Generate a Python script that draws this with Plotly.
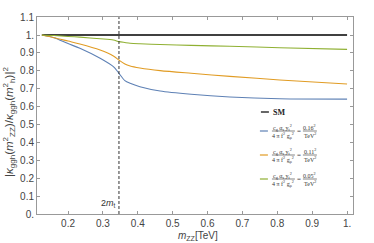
import plotly.graph_objects as go

# ---- data ----
m_zz = [0.125, 0.16, 0.2, 0.234, 0.292, 0.330, 0.346, 0.363, 0.378, 0.406, 0.464, 0.553, 0.664, 0.807, 1.0]
ratio_016 = [1.0, 0.985, 0.952, 0.926, 0.870, 0.823, 0.786, 0.745, 0.730, 0.711, 0.687, 0.669, 0.654, 0.644, 0.642]
ratio_011 = [1.0, 0.985, 0.966, 0.950, 0.916, 0.883, 0.860, 0.838, 0.827, 0.816, 0.801, 0.786, 0.769, 0.749, 0.726]
ratio_005 = [1.0, 0.997, 0.992, 0.988, 0.979, 0.972, 0.963, 0.958, 0.954, 0.951, 0.947, 0.942, 0.937, 0.929, 0.920]
sm_x = [0.125, 1.0]
sm_y = [1.0, 1.0]
two_mt = 0.346
series_names = ["0.16", "0.11", "0.05"]
x_ticks = [0.2, 0.3, 0.4, 0.5, 0.6, 0.7, 0.8, 0.9, 1.0]
x_tick_labels = ["0.2", "0.3", "0.4", "0.5", "0.6", "0.7", "0.8", "0.9", "1."]
y_ticks = [0.0, 0.1, 0.2, 0.3, 0.4, 0.5, 0.6, 0.7, 0.8, 0.9, 1.0, 1.1]
y_tick_labels = ["0.", "0.1", "0.2", "0.3", "0.4", "0.5", "0.6", "0.7", "0.8", "0.9", "1.", "1.1"]

colors = ["#5E81B5", "#E19C24", "#8FB032"]

fig = go.Figure()
fig.add_trace(go.Scatter(x=sm_x, y=sm_y, mode="lines", line=dict(color="black", width=1.3), showlegend=False))
for ys, c in zip([ratio_016, ratio_011, ratio_005], colors):
    fig.add_trace(go.Scatter(x=m_zz, y=ys, mode="lines", line=dict(color=c, width=1.1, shape="spline", smoothing=0.8),
                             showlegend=False))
fig.add_trace(go.Scatter(x=[two_mt, two_mt], y=[0, 1.1], mode="lines",
                         line=dict(color="#333333", width=1, dash="3px,2px"), showlegend=False))

ann = []
ann.append(dict(x=two_mt - 0.004, y=0.06, xref="x", yref="y", xanchor="right", yanchor="middle", showarrow=False,
                text="2<i>m</i><sub>t</sub>", font=dict(family="Liberation Sans", size=9, color="#333")))

W, H = 374, 243
L, R, T, B = 37, 21, 17, 29

def ppx(px):
    return (px - L) / (W - L - R)

def ppy(py):
    return (H - B - py) / (H - T - B)

ann.append(dict(x=ppx(198), y=ppy(236), xref="paper", yref="paper", xanchor="center", yanchor="middle",
                showarrow=False, text="<i>m</i><sub>ZZ</sub>[TeV]",
                font=dict(family="Liberation Sans", size=10, color="#444")))
ann.append(dict(x=ppx(9), y=ppy(122), xref="paper", yref="paper", xanchor="center", yanchor="middle",
                showarrow=False, textangle=-90,
                text="|<i>κ</i><sub>ggh</sub>(<i>m</i><sup>2</sup><sub>ZZ</sub>)/<i>κ</i><sub>ggh</sub>(<i>m</i><sup>2</sup><sub>h</sub>)|<sup>2</sup>",
                font=dict(family="Liberation Sans", size=11.5, color="#444")))

def px2x(px):
    return 0.2 + (px - 68) / 349.0

def py2y(py):
    return (214 - py) / 179.0

shapes = []
shapes.append(dict(type="line", xref="x", yref="y", x0=px2x(261), x1=px2x(269), y0=py2y(112), y1=py2y(112),
                   line=dict(color="black", width=1.2)))
ann.append(dict(x=px2x(271), y=py2y(112), xref="x", yref="y", xanchor="left", yanchor="middle", showarrow=False,
                text="<b>SM</b>", font=dict(family="Liberation Serif", size=8, color="#222")))
legend_py = [131, 155, 179]
serif = dict(family="Liberation Serif", size=6, color="#333")
for name, c, py in zip(series_names, colors, legend_py):
    shapes.append(dict(type="line", xref="x", yref="y", x0=px2x(260), x1=px2x(268), y0=py2y(py), y1=py2y(py),
                       line=dict(color=c, width=1.2)))
    ann.append(dict(x=px2x(283), y=py2y(py - 4), xref="x", yref="y", xanchor="center", yanchor="middle",
                    showarrow=False, text="c<sub>g</sub> α<sub>s</sub> y<sub>t</sub><sup>2</sup>", font=serif))
    ann.append(dict(x=px2x(283), y=py2y(py + 4), xref="x", yref="y", xanchor="center", yanchor="middle",
                    showarrow=False, text="4 π f<sup>2</sup> g<sub>ρ</sub><sup>2</sup>", font=serif))
    shapes.append(dict(type="line", xref="x", yref="y", x0=px2x(272), x1=px2x(295), y0=py2y(py), y1=py2y(py),
                       line=dict(color="#333", width=0.6)))
    ann.append(dict(x=px2x(299), y=py2y(py), xref="x", yref="y", xanchor="center", yanchor="middle",
                    showarrow=False, text="=", font=dict(family="Liberation Serif", size=7, color="#333")))
    ann.append(dict(x=px2x(310), y=py2y(py - 4), xref="x", yref="y", xanchor="center", yanchor="middle",
                    showarrow=False, text=name + "<sup>2</sup>", font=serif))
    ann.append(dict(x=px2x(310), y=py2y(py + 4), xref="x", yref="y", xanchor="center", yanchor="middle",
                    showarrow=False, text="TeV<sup>2</sup>", font=serif))
    shapes.append(dict(type="line", xref="x", yref="y", x0=px2x(303), x1=px2x(317), y0=py2y(py), y1=py2y(py),
                       line=dict(color="#333", width=0.6)))

axis_common = dict(showline=True, linecolor="#999", linewidth=1, mirror="ticks", ticks="inside", ticklen=3,
                   tickcolor="#999", showgrid=False, zeroline=False, automargin=False,
                   tickfont=dict(family="Liberation Sans", size=10, color="#444"))

fig.update_layout(
    width=W, height=H,
    margin=dict(l=L, r=R, t=T, b=B),
    paper_bgcolor="white", plot_bgcolor="white",
    xaxis=dict(range=[0.111, 1.017], tickvals=x_ticks, ticktext=x_tick_labels, **axis_common),
    yaxis=dict(range=[0, 1.1006], tickvals=y_ticks, ticktext=y_tick_labels, **axis_common),
    shapes=shapes,
    annotations=ann,
    showlegend=False,
)

fig.write_html("out.html", config={"displayModeBar": False, "staticPlot": True},
               post_script="document.body.style.margin='0';")
